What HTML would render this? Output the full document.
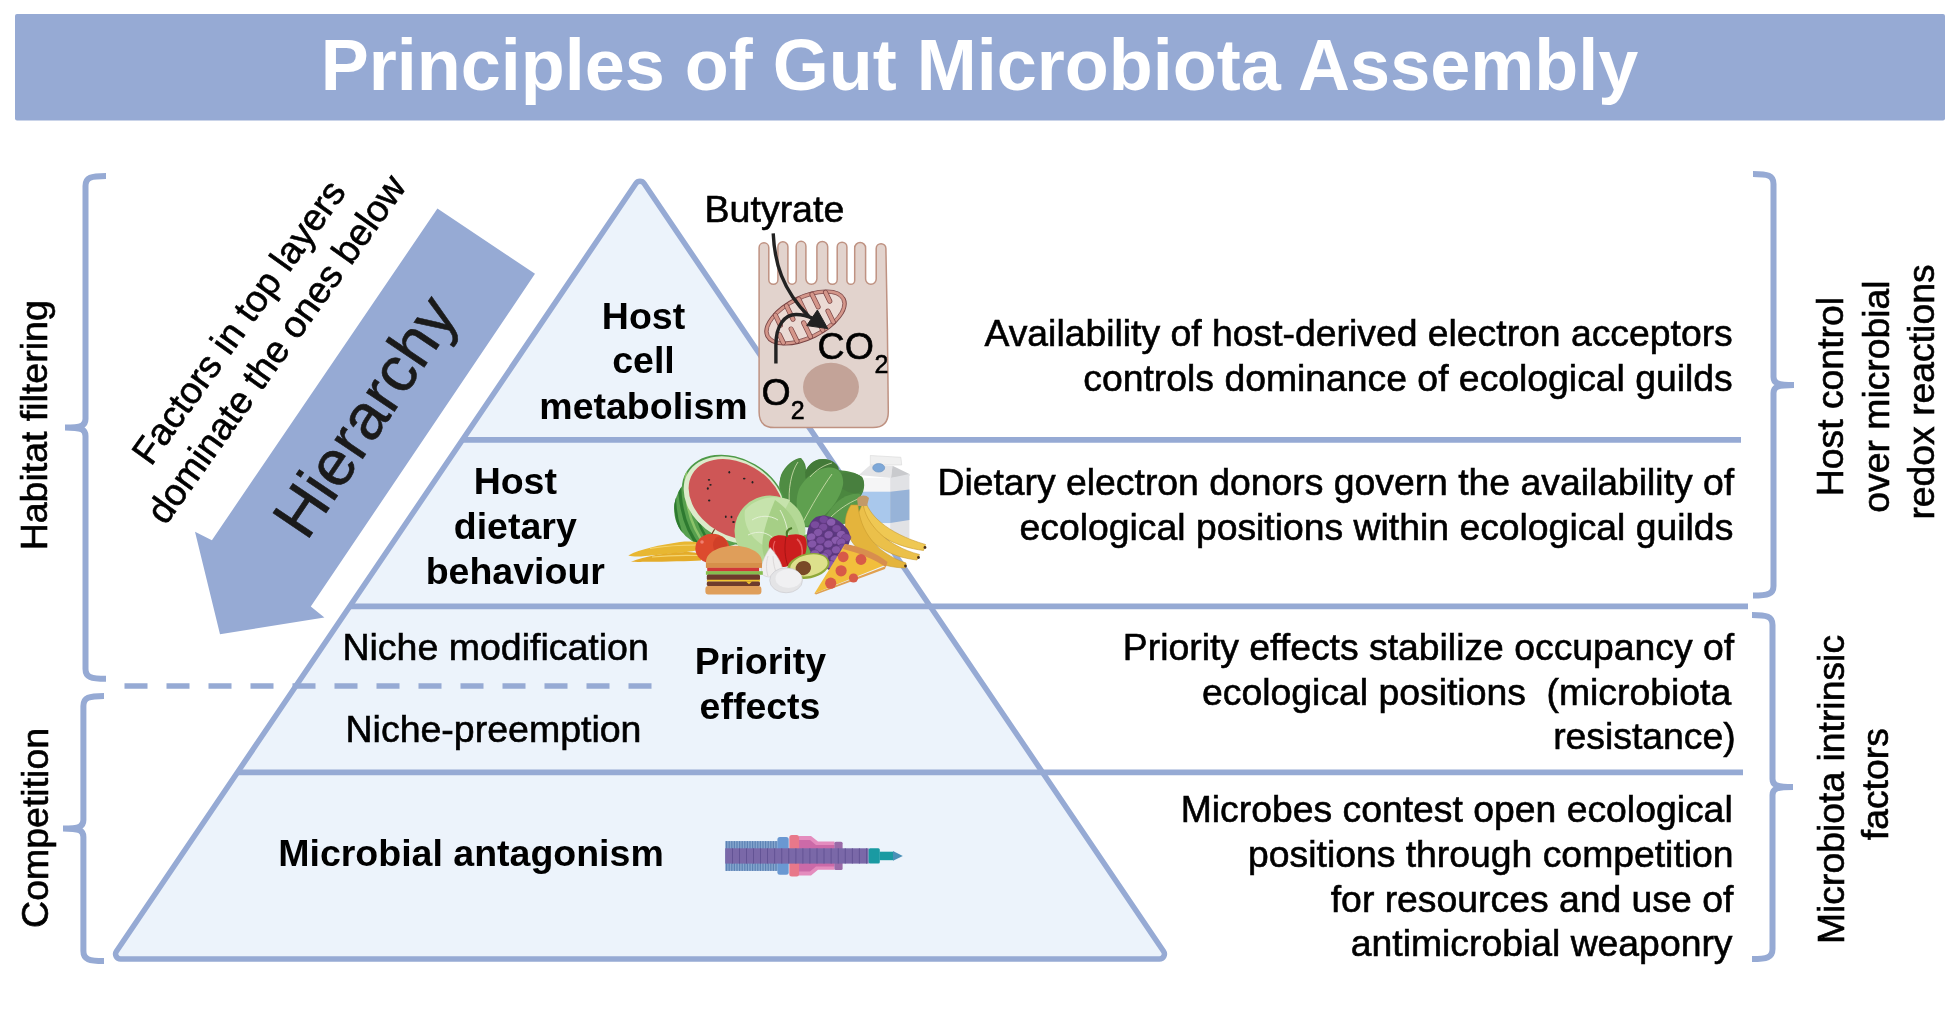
<!DOCTYPE html>
<html>
<head>
<meta charset="utf-8">
<style>
html,body{margin:0;padding:0;background:#fff;}
body{width:1960px;height:1012px;overflow:hidden;}
svg{display:block;will-change:transform;}
text{font-family:"Liberation Sans",sans-serif;}
.r{font-size:37.5px;fill:#000;stroke:#000;stroke-width:0.6px;}
.rr{font-size:37.35px;fill:#000;stroke:#000;stroke-width:0.6px;}
.b{font-size:37.5px;font-weight:700;fill:#000;}
</style>
</head>
<body>
<svg width="1960" height="1012" viewBox="0 0 1960 1012">
<!-- banner -->
<rect x="15" y="14" width="1930" height="106.5" rx="2" fill="#96AAD4"/>
<text x="979.5" y="89.8" text-anchor="middle" style="font-size:72px;font-weight:700;fill:#fff">Principles of Gut Microbiota Assembly</text>

<!-- brackets -->
<g fill="none" stroke="#96AAD4" stroke-width="6">
<path d="M106,176 C91,176 85.5,177.5 85.5,186 V419 C85.5,425.5 82,427.4 65,427.4 C82,427.4 85.5,429.5 85.5,436 V669 C85.5,677.3 91,678.8 106,678.8"/>
<path d="M104,696 C89,696 83.4,697.5 83.4,706 V820 C83.4,826.5 80,828.4 63,828.4 C80,828.4 83.4,830.5 83.4,837 V951 C83.4,959.5 89,961 104,961"/>
<path d="M1753,174 C1768,174 1773.5,175.5 1773.5,184 V377 C1773.5,383 1777,385 1794,385 C1777,385 1773.5,387 1773.5,393 V586 C1773.5,594 1768,595.6 1753,595.6"/>
<path d="M1752,615 C1767,615 1772.5,616.5 1772.5,625 V779 C1772.5,785 1776,787 1793,787 C1776,787 1772.5,789 1772.5,795 V949 C1772.5,957.5 1767,959 1752,959"/>
</g>

<!-- pyramid -->
<path id="tri" d="M635.86,183.52 A5,5 0 0 1 644.14,183.52 L1163.52,951.2 A5,5 0 0 1 1159.38,959 L120.62,959 A5,5 0 0 1 116.48,951.2 Z" fill="#ECF3FB" stroke="#96AAD4" stroke-width="5.5" stroke-linejoin="round"/>
<g stroke="#96AAD4" stroke-width="5.6" fill="none">
<path d="M462.4,439.9 H1741"/>
<path d="M349.8,606.4 H1748"/>
<path d="M237.5,772.4 H1743"/>
<path d="M124.5,686 H651.5" stroke-dasharray="23 19" stroke-width="5.5"/>
</g>

<!-- hierarchy arrow -->
<path d="M437.4,208.6 L535,273.8 L310.8,606.6 L324.4,617.5 L220,634.3 L195,531.8 L211.9,540.2 Z" fill="#96AAD4"/>

<!-- left labels -->
<text class="r" transform="translate(47,425.3) rotate(-90)" text-anchor="middle">Habitat filtering</text>
<text class="r" transform="translate(47.6,827.9) rotate(-90)" text-anchor="middle">Competition</text>

<!-- right labels -->
<text class="rr" transform="translate(1842.9,396.6) rotate(-90)" text-anchor="middle">Host control</text>
<text class="rr" transform="translate(1888.6,396.5) rotate(-90)" text-anchor="middle">over microbial</text>
<text class="rr" transform="translate(1933.5,392) rotate(-90)" text-anchor="middle">redox reactions</text>
<text class="rr" transform="translate(1843.7,789.5) rotate(-90)" text-anchor="middle">Microbiota intrinsic</text>
<text class="rr" transform="translate(1888.1,784.2) rotate(-90)" text-anchor="middle">factors</text>

<!-- right descriptions -->
<g text-anchor="end">
<text class="rr" x="1732.8" y="346">Availability of host-derived electron acceptors</text>
<text class="rr" x="1732.8" y="390.8">controls dominance of ecological guilds</text>
<text class="rr" x="1734.2" y="495.4">Dietary electron donors govern the availability of</text>
<text class="rr" x="1733.3" y="540.2">ecological positions within ecological guilds</text>
<text class="rr" x="1734.2" y="659.8">Priority effects stabilize occupancy of</text>
<text class="rr" x="1731.2" y="704.8" xml:space="preserve">ecological positions  (microbiota</text>
<text class="rr" x="1735.7" y="749.4">resistance)</text>
<text class="rr" x="1732.7" y="822.2">Microbes contest open ecological</text>
<text class="rr" x="1733.6" y="867.2">positions through competition</text>
<text class="rr" x="1733.3" y="912.2">for resources and use of</text>
<text class="rr" x="1732.5" y="956.4">antimicrobial weaponry</text>
</g>

<!-- pyramid labels -->
<g text-anchor="middle">
<text class="b" x="643.5" y="328.5">Host</text>
<text class="b" x="643.5" y="373.4">cell</text>
<text class="b" x="643.5" y="418.6">metabolism</text>
<text class="b" x="515.3" y="494.2">Host</text>
<text class="b" x="515.3" y="538.9">dietary</text>
<text class="b" x="515.3" y="584.2">behaviour</text>
<text class="r" x="495.6" y="659.6">Niche modification</text>
<text class="r" x="493.5" y="742.3">Niche-preemption</text>
<text class="b" x="760.5" y="674.3">Priority</text>
<text class="b" x="760" y="718.6">effects</text>
<text class="b" x="471" y="865.7">Microbial antagonism</text>
</g>

<!-- arrow texts -->
<text class="r" transform="translate(249,329.5) rotate(-54.5)" text-anchor="middle">Factors in top layers</text>
<text class="r" transform="translate(286.5,356.5) rotate(-54.5)" text-anchor="middle">dominate the ones below</text>
<text transform="translate(383,428.5) rotate(-56)" text-anchor="middle" style="font-size:64px;fill:#1a1a1a;stroke:#1a1a1a;stroke-width:0.6px">Hierarchy</text>

<!-- CELL -->
<g id="cell">
<path d="M759.1,412 L759.1,247.7 A4.85,4.85 0 0 1 768.8,247.7 L768.8,279.7 A4.55,4.55 0 0 0 777.9,279.7 L777.9,246.8 A5.00,5.00 0 0 1 787.9,246.8 L787.9,280.1 A4.15,4.15 0 0 0 796.2,280.1 L796.2,246.2 A4.85,4.85 0 0 1 805.9,246.2 L805.9,278.8 A5.50,5.50 0 0 0 816.9,278.8 L816.9,246.8 A5.40,5.40 0 0 1 827.7,246.8 L827.7,279.5 A4.75,4.75 0 0 0 837.2,279.5 L837.2,247.0 A4.85,4.85 0 0 1 846.9,247.0 L846.9,280.4 A3.90,3.90 0 0 0 854.7,280.4 L854.7,248.0 A5.45,5.45 0 0 1 865.6,248.0 L865.6,279.0 A5.30,5.30 0 0 0 876.2,279.0 L876.2,248.5 A4.85,4.85 0 0 1 885.9,248.5 L887.4,330 L888.3,412 Q888.3,427.6 873.0,427.6 L774.4,427.6 Q759.1,427.6 759.1,412 Z" fill="#E2D3CD" stroke="#BF9282" stroke-width="1.5" stroke-linejoin="round"/>
<ellipse cx="831" cy="387.1" rx="28" ry="24.3" fill="#C3A398"/>
<g transform="translate(805.5,317.5) rotate(-26)">
<ellipse cx="0" cy="0" rx="44" ry="22" fill="#D4968A" stroke="#7A4444" stroke-width="0.9"/>
<ellipse cx="0" cy="0" rx="40.5" ry="18.5" fill="#EBDAD4" stroke="#7A4444" stroke-width="0.7"/>
<g stroke="#7A4444" stroke-width="5" stroke-linecap="round"><path d="M-26,-15.2 L-26,-4"/><path d="M-12,-18.7 L-12,-4"/><path d="M2,-19.5 L2,-4"/><path d="M16,-18.0 L16,-4"/><path d="M29,-13.9 L29,-4"/><path d="M-31,12.9 L-31,4"/><path d="M-18,17.6 L-18,4"/><path d="M-4,19.4 L-4,4"/><path d="M10,18.9 L10,4"/><path d="M23,16.2 L23,4"/></g>
<g stroke="#D4968A" stroke-width="3.6" stroke-linecap="round"><path d="M-26,-15.2 L-26,-4"/><path d="M-12,-18.7 L-12,-4"/><path d="M2,-19.5 L2,-4"/><path d="M16,-18.0 L16,-4"/><path d="M29,-13.9 L29,-4"/><path d="M-31,12.9 L-31,4"/><path d="M-18,17.6 L-18,4"/><path d="M-4,19.4 L-4,4"/><path d="M10,18.9 L10,4"/><path d="M23,16.2 L23,4"/></g>
</g>
<g fill="none" stroke="#222" stroke-width="3.4">
<path d="M773.2,233.4 C774.5,262 782,290 809,316.5"/>
<path d="M775.9,363.5 L775.9,345 C775.9,325 785,314.5 796,314.5 C802,314.5 808,316 813,318.5"/>
</g>
<path d="M827.8,328.6 L817.4,310 L806.7,325.6 Z" fill="#222" stroke="#222" stroke-width="1" stroke-linejoin="round"/>
<text class="r" x="704.6" y="221.8">Butyrate</text>
<text class="r" x="817.6" y="358.6">CO</text>
<text x="874.4" y="372.8" style="font-size:25px;stroke:#000;stroke-width:0.5px">2</text>
<text class="r" x="761.6" y="405">O</text>
<text x="790.7" y="418.9" style="font-size:25px;stroke:#000;stroke-width:0.5px">2</text>
</g>

<!-- FOOD -->
<g id="food">
<!-- milk carton -->
<g>
<path d="M870.3,455.5 L900.9,457.3 L901.7,465 L870.3,465 Z" fill="#F0F0F0" stroke="#D8D8D8" stroke-width="0.6"/>
<path d="M858.8,475 L870.3,464.9 L892.5,465.7 L891,477.9 Z" fill="#E4E4E6"/>
<path d="M892.5,465.7 L909.4,474.1 L909.4,476 L891,477.9 Z" fill="#C9CACD"/>
<rect x="858.8" y="477.9" width="31.4" height="60" fill="#F5F5F6"/>
<path d="M890.2,477.9 L909.4,474.1 L909.4,538 L890.2,538 Z" fill="#E1E2E5"/>
<rect x="858.8" y="491.7" width="31.4" height="31.4" fill="#A9C8EC"/>
<path d="M890.2,491.7 L909.4,489.4 L909.4,520 L890.2,523.1 Z" fill="#97B3D8"/>
<ellipse cx="878.7" cy="467.8" rx="6" ry="4.3" fill="#7EA8D8" stroke="#6690C0" stroke-width="0.6"/>
</g>
<!-- leafy greens -->
<g>
<path d="M790,508 C780,498 778,485 781,475 C785,465 795,458 801,458 C805,462 806,466 806,470 C810,462 817,459 823,459 C832,459 838,464 839,470 C846,471 856,472 862,477 C866,484 864,492 860,497 C864,505 858,516 846,523 C836,528 820,528 802,527 Z" fill="#4B873F"/>
<path d="M804,476 C806,466 814,459 823,459 C830,459 837,463 838.5,468 C836,475 830,480 820,482 C812,482 806,480 804,476 Z" fill="#437A38"/>
<path d="M838,476 C845,471 855,472 862,477 C866,484 863,490 858,493 C850,494 842,490 838,484 Z" fill="#487F3E"/>
<path d="M790,508 C782,500 778,490 779.5,482 C781,472 790,462 800.8,458 C806,465 806.5,480 804,492 C801,500 796,506 790,508 Z" fill="#4F8C43"/>
<path d="M824,522 C830,505 845,492 860,494 C866,504 860,516 846,523 C838,527 830,526 824,522 Z" fill="#5A994B"/>
<path d="M801.7,527 C796,515 795,500 799,489 C805,477 818,467 831,467.5 C840,468 844,476 843,485 C840,499 830,512 817,521 C811,525 805,527 801.7,527 Z" fill="#5FA04F"/>
<g fill="none" stroke="#D6E2B4" stroke-width="0.8">
<path d="M802,524 C812,505 822,488 832,474"/>
<path d="M789.5,505 C788,490 791,472 798,462"/>
<path d="M830,518 C838,510 848,503 858,499"/>
<path d="M810,477 C816,470 824,465 832,463"/>
</g>
</g>
<!-- watermelon -->
<g>
<clipPath id="rindclip"><ellipse cx="718" cy="508" rx="44" ry="40" transform="rotate(-10 718 508)"/><ellipse cx="734.2" cy="500.1" rx="55.5" ry="41.5" transform="rotate(30 734.2 500.1)"/></clipPath>
<ellipse cx="734.2" cy="500.1" rx="55.5" ry="41.5" transform="rotate(30 734.2 500.1)" fill="#4E9A48"/>
<ellipse cx="718" cy="508" rx="44" ry="40" transform="rotate(-10 718 508)" fill="#57A04E"/>
<g clip-path="url(#rindclip)" fill="none" stroke-width="3">
<path d="M680,470 C678,500 684,528 700,548" stroke="#2E7A30" stroke-width="3.2"/>
<path d="M686,472 C684,500 690,526 706,546" stroke="#8CC46A" stroke-width="2.5"/>
<path d="M675,490 C674,512 678,532 690,550" stroke="#2E7A30" stroke-width="2.6"/>
<path d="M693,485 C692,508 698,528 712,546" stroke="#2E7A30" stroke-width="2.6"/>
</g>
<ellipse cx="734.2" cy="500.1" rx="53.6" ry="40" transform="rotate(30 734.2 500.1)" fill="#DCEBCB"/>
<ellipse cx="736" cy="499.5" rx="50.5" ry="36.5" transform="rotate(30 736 499.5)" fill="#CE5656"/>
<g fill="#222">
<ellipse cx="729.3" cy="472.3" rx="0.9" ry="1.3"/>
<ellipse cx="709" cy="479.8" rx="1.2" ry="0.9"/>
<ellipse cx="710.5" cy="484.8" rx="1.2" ry="0.9"/>
<ellipse cx="707.8" cy="488.5" rx="1" ry="1.2"/>
<ellipse cx="744.2" cy="478.6" rx="1.3" ry="0.9"/>
<ellipse cx="752.5" cy="482.3" rx="0.9" ry="1.3"/>
<ellipse cx="709.2" cy="500.5" rx="1.2" ry="0.9"/>
<ellipse cx="725.8" cy="516.8" rx="0.9" ry="1.2"/>
<ellipse cx="731.5" cy="517" rx="0.9" ry="1.2"/>
<ellipse cx="733.5" cy="522" rx="1.3" ry="0.9"/>
</g>
</g>
<!-- cabbage -->
<g>
<circle cx="770" cy="531" r="35.5" fill="#B4D996"/>
<path d="M745,510 C755,498 775,494 790,500 C782,515 775,530 770,548 C758,545 742,530 745,510 Z" fill="#C6E3AC"/>
<path d="M775,500 C790,510 800,525 800,545 C795,555 785,562 770,565 C760,555 758,540 775,500 Z" fill="#A6CF86"/>
<path d="M752,520 C760,515 770,515 778,520 M748,535 C758,530 768,532 775,540 M780,510 C786,520 790,535 788,550" stroke="#E6F2DA" stroke-width="0.9" fill="none"/>
</g>
<!-- bananas -->
<g>
<path d="M865,499 C868,514 886,533 925.5,544.5 L923.5,550.5 C897,547 874,536 862,515 Z" fill="#EFC853" stroke="#C99A2E" stroke-width="0.6"/>
<path d="M863,503 C865,523 886,546 919.5,554.5 L917,560 C889,557 866,543 856,518 Z" fill="#EBC04A" stroke="#C99A2E" stroke-width="0.6"/>
<path d="M858,505 C860,531 876,553 906,563 L905.5,568 C879,567.5 857,556 846,531 C844,522 846,512 851,505 Z" fill="#E4B43C" stroke="#C99A2E" stroke-width="0.6"/>
<path d="M857,499 C859,495 866,494 869,498 L867,506 L858,506 Z" fill="#C29A68"/>
<circle cx="925" cy="547.5" r="1.4" fill="#4A3018"/>
<circle cx="918.5" cy="557.5" r="1.4" fill="#4A3018"/>
<circle cx="905.5" cy="566" r="1.4" fill="#4A3018"/>
</g>
<!-- grapes -->
<path d="M803,536 C807,533 812,534 814,538 L814,558 C810,560 806,559 804,556 Z" fill="#6FAE4E"/>
<path d="M816,517 C826,513 840,518 848,530 C852,537 850,545 844,552 C840,560 834,568 829,570 C822,566 812,558 808,546 C805,535 808,522 816,517 Z" fill="#5B3880"/>
<g stroke="#5A3478" stroke-width="0.5">
<ellipse cx="823.8" cy="519.6" rx="4.6" ry="3.9" transform="rotate(3 823.8 519.6)" fill="#74489A"/>
<ellipse cx="831.1" cy="522.2" rx="4.6" ry="3.9" transform="rotate(-5 831.1 522.2)" fill="#8A5CAE"/>
<ellipse cx="815.1" cy="524.8" rx="4.6" ry="3.9" transform="rotate(-0 815.1 524.8)" fill="#7A4C9E"/>
<ellipse cx="823.1" cy="527.3" rx="4.6" ry="3.9" transform="rotate(-14 823.1 527.3)" fill="#7A4C9E"/>
<ellipse cx="836.6" cy="528.6" rx="4.6" ry="3.9" transform="rotate(2 836.6 528.6)" fill="#7A4C9E"/>
<ellipse cx="818.0" cy="532.5" rx="4.6" ry="3.9" transform="rotate(-24 818.0 532.5)" fill="#8456A8"/>
<ellipse cx="841.1" cy="534.4" rx="4.6" ry="3.9" transform="rotate(-12 841.1 534.4)" fill="#8A5CAE"/>
<ellipse cx="828.6" cy="534.7" rx="4.6" ry="3.9" transform="rotate(-22 828.6 534.7)" fill="#8456A8"/>
<ellipse cx="811.2" cy="537.0" rx="4.6" ry="3.9" transform="rotate(-23 811.2 537.0)" fill="#8A5CAE"/>
<ellipse cx="846.2" cy="537.6" rx="4.6" ry="3.9" transform="rotate(3 846.2 537.6)" fill="#7A4C9E"/>
<ellipse cx="820.6" cy="540.2" rx="4.6" ry="3.9" transform="rotate(-8 820.6 540.2)" fill="#7A4C9E"/>
<ellipse cx="835.6" cy="540.2" rx="4.6" ry="3.9" transform="rotate(-24 835.6 540.2)" fill="#8A5CAE"/>
<ellipse cx="841.1" cy="542.1" rx="4.6" ry="3.9" transform="rotate(-24 841.1 542.1)" fill="#8456A8"/>
<ellipse cx="812.2" cy="544.0" rx="4.6" ry="3.9" transform="rotate(-16 812.2 544.0)" fill="#8456A8"/>
<ellipse cx="828.3" cy="544.0" rx="4.6" ry="3.9" transform="rotate(-9 828.3 544.0)" fill="#8456A8"/>
<ellipse cx="842.4" cy="547.9" rx="4.6" ry="3.9" transform="rotate(-8 842.4 547.9)" fill="#74489A"/>
<ellipse cx="819.3" cy="548.5" rx="4.6" ry="3.9" transform="rotate(-22 819.3 548.5)" fill="#8456A8"/>
<ellipse cx="836.0" cy="549.8" rx="4.6" ry="3.9" transform="rotate(-14 836.0 549.8)" fill="#8456A8"/>
<ellipse cx="827.6" cy="553.0" rx="4.6" ry="3.9" transform="rotate(-8 827.6 553.0)" fill="#7A4C9E"/>
<ellipse cx="814.8" cy="553.7" rx="4.6" ry="3.9" transform="rotate(-10 814.8 553.7)" fill="#8456A8"/>
<ellipse cx="823.8" cy="556.9" rx="4.6" ry="3.9" transform="rotate(-2 823.8 556.9)" fill="#8A5CAE"/>
<ellipse cx="834.7" cy="558.8" rx="4.6" ry="3.9" transform="rotate(-7 834.7 558.8)" fill="#8A5CAE"/>
<ellipse cx="830.8" cy="564.6" rx="4.6" ry="3.9" transform="rotate(-14 830.8 564.6)" fill="#8A5CAE"/>
</g>
<!-- corn -->
<g>
<path d="M628.3,555.4 C640,549 660,545 680,542 C690,541 698,541.5 699,544 L699,550 C690,552 665,554 645,556 C638,557 632,556.5 628.3,555.4 Z" fill="#E8B732"/>
<path d="M631,561.8 C645,556 665,553 685,552 C695,552 701,553 701,556 L701,560.4 C690,561 665,561.5 648,561.8 C640,562 635,562 631,561.8 Z" fill="#E4AC2A"/>
<path d="M650,548.5 C665,546 680,545 696,545" stroke="#F4D572" stroke-width="1.2" fill="none"/>
<path d="M652,557 C667,555.5 682,555 698,555.5" stroke="#F4D572" stroke-width="1.2" fill="none"/>
</g>
<!-- apple -->
<g>
<ellipse cx="712.3" cy="548.5" rx="17" ry="14.7" fill="#DD4A2E"/>
<ellipse cx="720" cy="545" rx="7" ry="9" fill="#C83A24" opacity="0.6"/>
<circle cx="702" cy="542" r="1.8" fill="#F08070"/>
<path d="M711.8,534 L714.6,529.2" stroke="#6A3A1A" stroke-width="1.2"/>
</g>
<!-- red pepper -->
<g>
<path d="M769,543 C770,536 778,534 786,536 C792,534 800,533 805,537 C808,542 807,552 803,560 C800,565 794,567 788,566 C784,568 779,567 776,563 C771,557 768,550 769,543 Z" fill="#CC1E1E"/>
<path d="M786,537 C784,548 785,558 788,566" stroke="#A81414" stroke-width="1" fill="none"/>
<path d="M797,539 C801,542 803,548 802,556" stroke="#E86060" stroke-width="1.6" fill="none"/>
<path d="M775,541 C773,545 773,550 775,553" stroke="#E86060" stroke-width="1.2" fill="none"/>
<path d="M787,537 C786,532 788,529 792,528" stroke="#4B7A2A" stroke-width="2.2" fill="none"/>
</g>
<!-- garlic -->
<path d="M770,547.5 C765,556 759,566 762,574 C766,578.5 776,578 783,572 C782,562 776,554 770,547.5 Z" fill="#F0EEEE" stroke="#CFCBCB" stroke-width="0.6"/>
<path d="M768,556 C766,563 766,570 768,576 M773,556 C773,563 775,570 777,575" stroke="#D2CECE" stroke-width="0.7" fill="none"/>
<!-- burger -->
<g>
<path d="M705.9,567.8 L705.9,562 C706,552 720,545.7 734,545.7 C748,545.7 762,552 762,562 L762,567.8 Z" fill="#DF9E5A"/>
<path d="M706,563 L762,563 L762,567.8 L706,567.8 Z" fill="#D68F4A"/>
<rect x="707.2" y="567.8" width="51.9" height="3.8" fill="#D03838"/>
<rect x="705.9" y="571.2" width="56.9" height="3.6" fill="#86BE4E"/>
<rect x="706.8" y="574.6" width="53.2" height="5.6" rx="1.5" fill="#6E3B2C"/>
<path d="M706.8,579.8 L760,579.8 L760,581.8 L750,582 L746,584.5 L740,581.8 L706.8,581.8 Z" fill="#F2C530"/>
<rect x="706.8" y="581.4" width="53.2" height="4.5" rx="1.5" fill="#6E3B2C"/>
<path d="M746,581.6 L752,581.6 L749,584.3 Z" fill="#F2C530"/>
<rect x="705.4" y="586.1" width="56" height="8.3" rx="3" fill="#DF9E5A"/>
</g>
<!-- avocado -->
<g transform="rotate(-12 808.3 566)">
<ellipse cx="808.3" cy="566" rx="21.5" ry="12.5" fill="#8FA83A"/>
<ellipse cx="809" cy="565.5" rx="19" ry="10.5" fill="#DDE08C"/>
<ellipse cx="803" cy="567" rx="7.8" ry="7" fill="#7A4A28"/>
</g>
<!-- egg -->
<ellipse cx="786.1" cy="580.3" rx="16.4" ry="12.5" fill="#E4E4E6" stroke="#C8C8CC" stroke-width="0.6"/>
<ellipse cx="788.5" cy="578.5" rx="13" ry="9.5" fill="#F0F0F2"/>
<!-- pizza -->
<g>
<path d="M814.4,593.5 L845,544 C860,548 876,555 886.4,564.4 Z" fill="#F2BE3C"/>
<path d="M845,544 C860,546 878,554 887.5,562 L886,567 C875,560 860,553 843,549 Z" fill="#D88E4E"/>
<path d="M814.4,593.5 L886,566 L885,569 L816,594.5 Z" fill="#E0A050"/>
<g fill="#D85A48">
<circle cx="843.2" cy="556.8" r="5.4"/><circle cx="861" cy="559.5" r="5.4"/>
<circle cx="841.1" cy="570.8" r="5.6"/><circle cx="853.5" cy="578" r="4.6"/>
<circle cx="830.7" cy="583.2" r="5.6"/>
</g>
</g>
</g>
<!-- ENDFOOD -->
<!-- FOOD_PLACEHOLDER -->
<!-- T6SS -->
<g id="t6ss">
<rect x="725.2" y="841.1" width="52.5" height="29.8" fill="#86A6CE"/>
<rect x="726.0" y="841.1" width="1.2" height="29.8" fill="#5C82B4"/><rect x="728.6" y="841.1" width="1.2" height="29.8" fill="#5C82B4"/><rect x="731.2" y="841.1" width="1.2" height="29.8" fill="#5C82B4"/><rect x="733.8" y="841.1" width="1.2" height="29.8" fill="#5C82B4"/><rect x="736.4" y="841.1" width="1.2" height="29.8" fill="#5C82B4"/><rect x="739.0" y="841.1" width="1.2" height="29.8" fill="#5C82B4"/><rect x="741.6" y="841.1" width="1.2" height="29.8" fill="#5C82B4"/><rect x="744.2" y="841.1" width="1.2" height="29.8" fill="#5C82B4"/><rect x="746.8" y="841.1" width="1.2" height="29.8" fill="#5C82B4"/><rect x="749.4" y="841.1" width="1.2" height="29.8" fill="#5C82B4"/><rect x="752.0" y="841.1" width="1.2" height="29.8" fill="#5C82B4"/><rect x="754.6" y="841.1" width="1.2" height="29.8" fill="#5C82B4"/><rect x="757.2" y="841.1" width="1.2" height="29.8" fill="#5C82B4"/><rect x="759.8" y="841.1" width="1.2" height="29.8" fill="#5C82B4"/><rect x="762.4" y="841.1" width="1.2" height="29.8" fill="#5C82B4"/><rect x="765.0" y="841.1" width="1.2" height="29.8" fill="#5C82B4"/><rect x="767.6" y="841.1" width="1.2" height="29.8" fill="#5C82B4"/><rect x="770.2" y="841.1" width="1.2" height="29.8" fill="#5C82B4"/><rect x="772.8" y="841.1" width="1.2" height="29.8" fill="#5C82B4"/><rect x="775.4" y="841.1" width="1.2" height="29.8" fill="#5C82B4"/>
<path d="M799,836 L811,836 L818,841.5 L834.5,841.5 L834.5,869.8 L818,869.8 L811,875.5 L799,875.5 Z" fill="#E48CBE"/>
<path d="M799,840 L810,840 L816,845 L834.5,845 L834.5,866.5 L816,866.5 L810,871.5 L799,871.5 Z" fill="#CC6AA8"/>
<rect x="834.4" y="841.8" width="8.2" height="28.1" rx="1.5" fill="#9A6AA8"/>
<rect x="777.4" y="837" width="11.3" height="37.8" rx="2.5" fill="#6A98D2"/>
<rect x="789.3" y="835" width="9.8" height="41.5" rx="2.5" fill="#E8788A"/>
<rect x="725.2" y="848.3" width="143.4" height="15.3" fill="#7A68A8"/>
<rect x="732.0" y="848.3" width="0.8" height="15.3" fill="#5E4E90"/><rect x="739.0" y="848.3" width="0.8" height="15.3" fill="#5E4E90"/><rect x="746.1" y="848.3" width="0.8" height="15.3" fill="#5E4E90"/><rect x="753.1" y="848.3" width="0.8" height="15.3" fill="#5E4E90"/><rect x="760.2" y="848.3" width="0.8" height="15.3" fill="#5E4E90"/><rect x="767.2" y="848.3" width="0.8" height="15.3" fill="#5E4E90"/><rect x="774.3" y="848.3" width="0.8" height="15.3" fill="#5E4E90"/><rect x="781.4" y="848.3" width="0.8" height="15.3" fill="#5E4E90"/><rect x="788.4" y="848.3" width="0.8" height="15.3" fill="#5E4E90"/><rect x="795.5" y="848.3" width="0.8" height="15.3" fill="#5E4E90"/><rect x="802.5" y="848.3" width="0.8" height="15.3" fill="#5E4E90"/><rect x="809.5" y="848.3" width="0.8" height="15.3" fill="#5E4E90"/><rect x="816.6" y="848.3" width="0.8" height="15.3" fill="#5E4E90"/><rect x="823.6" y="848.3" width="0.8" height="15.3" fill="#5E4E90"/><rect x="830.7" y="848.3" width="0.8" height="15.3" fill="#5E4E90"/><rect x="837.8" y="848.3" width="0.8" height="15.3" fill="#5E4E90"/><rect x="844.8" y="848.3" width="0.8" height="15.3" fill="#5E4E90"/><rect x="851.9" y="848.3" width="0.8" height="15.3" fill="#5E4E90"/><rect x="858.9" y="848.3" width="0.8" height="15.3" fill="#5E4E90"/><rect x="866.0" y="848.3" width="0.8" height="15.3" fill="#5E4E90"/>
<rect x="868.6" y="848.3" width="11.2" height="15.3" rx="1.5" fill="#1A9AA2"/>
<rect x="879.6" y="851.7" width="13.6" height="8.5" fill="#1A9AA2"/>
<path d="M893,851 L902.8,855.9 L893,860.8 Z" fill="#4A90B8"/>
</g>

</svg>
</body>
</html>
